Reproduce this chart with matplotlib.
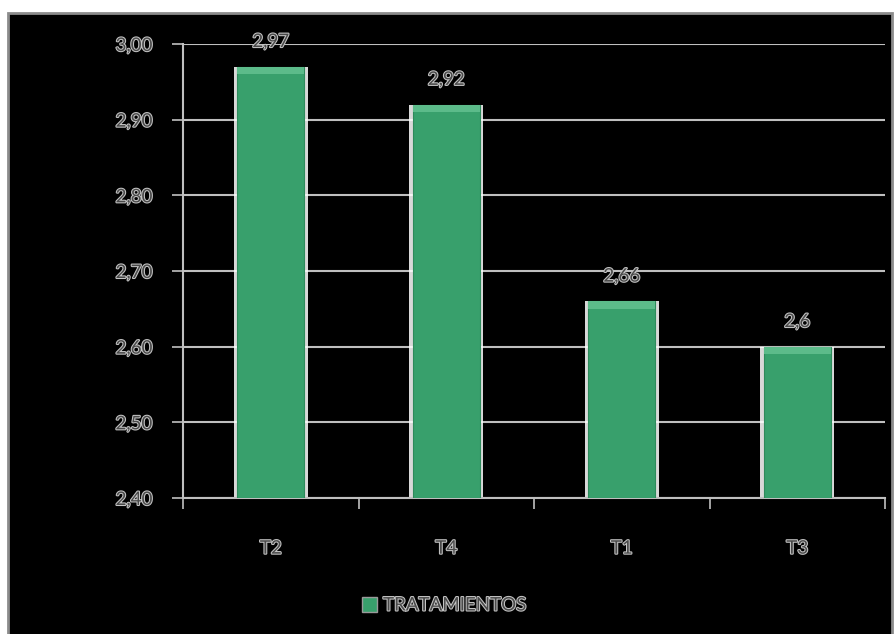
import matplotlib
matplotlib.use("Agg")
import matplotlib.pyplot as plt
import matplotlib.patheffects as pe
from matplotlib.patches import Rectangle
from matplotlib.ticker import FuncFormatter, FixedLocator

# data
categorias = ["T2", "T4", "T1", "T3"]
valores = [2.97, 2.92, 2.66, 2.6]
serie = "TRATAMIENTOS"
y_ticks = [2.40, 2.50, 2.60, 2.70, 2.80, 2.90, 3.00]

verde = "#38a06c"
verde_claro = "#5cbb8a"
gris = "#bfbfbf"
texto = "#4a4a4a"

plt.rcParams["font.family"] = ["Lato", "DejaVu Sans"]
efecto = [pe.withStroke(linewidth=1.5, foreground="#c4c4c4")]

fig = plt.figure(figsize=(8.94, 6.34), dpi=100, facecolor="white")
# black chart area with grey border
fig.patches.append(Rectangle((8 / 894, -0.01), 884 / 894, 621 / 634 + 0.01,
                             transform=fig.transFigure, facecolor="black",
                             edgecolor="#8c8c8c", linewidth=2, zorder=-5))

ax = fig.add_axes([183 / 894, 1 - 498 / 634, (885 - 183) / 894, (498 - 44) / 634])
ax.patch.set_alpha(0)

x = list(range(len(categorias)))
ancho = 0.38
# white glow behind bars
ax.bar(x, [v - 2.40 for v in valores], bottom=2.40, width=ancho + 0.04,
       color="white", alpha=0.85, zorder=2)
ax.bar(x, [v - 2.40 for v in valores], bottom=2.40, width=ancho,
       color=verde, edgecolor="#2e8a5b", linewidth=0.8, zorder=3)
# soft bevel on top of each bar
ax.bar(x, [0.01] * len(valores), bottom=[v - 0.01 for v in valores],
       width=ancho, color=verde_claro, linewidth=0, zorder=4)

for xi, v in zip(x, valores):
    ax.text(xi, v + 0.022, str(v).replace(".", ","), ha="center", va="bottom",
            fontsize=13.5, color=texto, path_effects=efecto, zorder=5)

ax.set_xlim(-0.5, len(categorias) - 0.5)
ax.set_ylim(2.40, 3.00)
ax.yaxis.set_major_locator(FixedLocator(y_ticks))
ax.yaxis.set_major_formatter(FuncFormatter(lambda v, p: f"{v:.2f}".replace(".", ",")))
ax.grid(axis="y", color=gris, linewidth=1.5, zorder=1)
ax.set_axisbelow(True)

ax.set_xticks(x)
ax.set_xticklabels(categorias)
ax.xaxis.set_minor_locator(FixedLocator([i - 0.5 for i in range(len(categorias) + 1)]))
ax.tick_params(axis="x", which="major", length=0, pad=30)
ax.tick_params(axis="x", which="minor", length=8, width=1.2, color=gris)
ax.tick_params(axis="y", length=8, width=1.2, color=gris, pad=14)

for lab in ax.get_xticklabels() + ax.get_yticklabels():
    lab.set_fontsize(13.5)
    lab.set_color(texto)
    lab.set_path_effects(efecto)

for s in ["top", "right"]:
    ax.spines[s].set_visible(False)
for s in ["left", "bottom"]:
    ax.spines[s].set_color(gris)
    ax.spines[s].set_linewidth(1.5)

# legend
fig.patches.append(Rectangle((362 / 894, 1 - 612 / 634), 15 / 894, 15 / 634,
                             transform=fig.transFigure, facecolor=verde,
                             edgecolor="#9a9a9a", linewidth=1, zorder=5))
fig.text(383 / 894, 1 - 605 / 634, serie, ha="left", va="center",
         fontsize=13.5, color=texto, path_effects=efecto)

fig.savefig("out.png", dpi=100, facecolor="white")
